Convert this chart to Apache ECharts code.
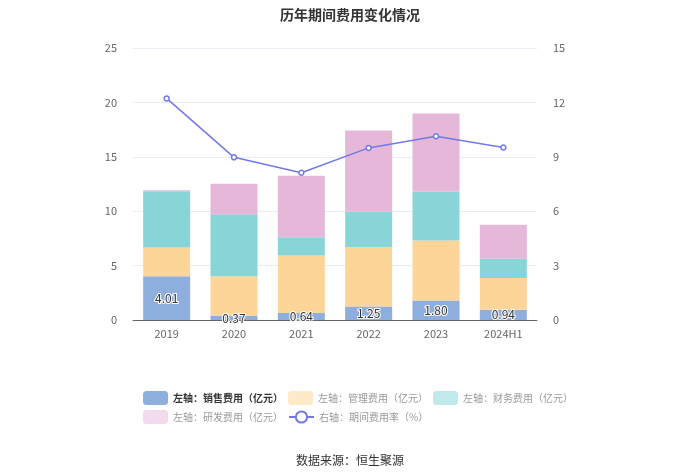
<!DOCTYPE html>
<html><head><meta charset="utf-8">
<script src="https://cdn.jsdelivr.net/npm/echarts@6/dist/echarts.min.js"></script>
<style>html,body{margin:0;padding:0;background:#fff}#c{width:700px;height:474px}</style>
</head><body><div id="c"></div>
<script>
var categories = ['2019','2020','2021','2022','2023','2024H1'];
var sales = [4.01, 0.37, 0.64, 1.25, 1.80, 0.94];
var admin = [2.65, 3.64, 5.28, 5.47, 5.51, 2.91];
var finance = [5.18, 5.70, 1.69, 3.24, 4.47, 1.79];
var rnd = [0.08, 2.81, 5.65, 7.46, 7.21, 3.11];
var rate = [12.22, 8.97, 8.12, 9.49, 10.13, 9.51];
var names = ['左轴：销售费用（亿元）','左轴：管理费用（亿元）','左轴：财务费用（亿元）','左轴：研发费用（亿元）','右轴：期间费用率（%）'];
var colors = ['#8eaedd','#fdd598','#88d5d8','#e5b8da','#7379e8'];
var chart = echarts.init(document.getElementById('c'));
var ff = '"Noto Sans CJK SC", sans-serif';
function bar(i, data, label) {
  var s = {name: names[i], type: 'bar', stack: 'a', data: data, barWidth: 47,
    itemStyle: {color: colors[i]}};
  if (label) s.label = {show: true, position: 'inside', color: '#333', fontSize: 12,
    textBorderColor: '#fff', textBorderWidth: 2, fontFamily: ff,
    formatter: function(p){return p.value.toFixed(2);}};
  return s;
}
chart.setOption({
  animation: false,
  textStyle: {fontFamily: ff},
  title: [{text: '历年期间费用变化情况', left: 'center', top: 3, textStyle: {fontSize: 14, fontWeight: 'bold', color: '#333', fontFamily: ff}},
          {text: '数据来源：恒生聚源', left: 'center', top: 449, textStyle: {fontSize: 12, fontWeight: 'normal', color: '#333', fontFamily: ff}}],
  grid: {left: 133, right: 163, top: 48, bottom: 154},
  legend: {top: 386, left: 138, width: 450, itemWidth: 25, itemHeight: 14, itemGap: 5, textStyle: {fontSize: 10, color: '#999'},
    data: [
      {name: names[0], textStyle: {color: '#333', fontWeight: 'bold'}},
      {name: names[1], itemStyle: {color: '#fee9c9'}},
      {name: names[2], itemStyle: {color: '#bfe9ea'}},
      {name: names[3], itemStyle: {color: '#f2dbec'}},
      {name: names[4]}
    ]},
  xAxis: {type: 'category', data: categories, axisTick: {alignWithLabel: true, length: 4, lineStyle: {color: '#666'}},
    axisLine: {lineStyle: {color: '#666'}}, axisLabel: {color: '#666', fontSize: 11, margin: 8}},
  yAxis: [
    {type: 'value', min: 0, max: 25, interval: 5, axisLabel: {color: '#666', fontSize: 11, margin: 16},
      splitLine: {lineStyle: {color: '#e8ecf4'}}},
    {type: 'value', min: 0, max: 15, interval: 3, axisLabel: {color: '#666', fontSize: 11, margin: 16},
      splitLine: {show: false}}
  ],
  series: [
    bar(0, sales, true), bar(1, admin), bar(2, finance), bar(3, rnd),
    {name: names[4], type: 'line', yAxisIndex: 1, data: rate, symbol: 'circle', symbolSize: 5,
      itemStyle: {color: '#fff', borderColor: colors[4], borderWidth: 1.5},
      lineStyle: {color: colors[4], width: 1.5}}
  ]
});
</script></body></html>
